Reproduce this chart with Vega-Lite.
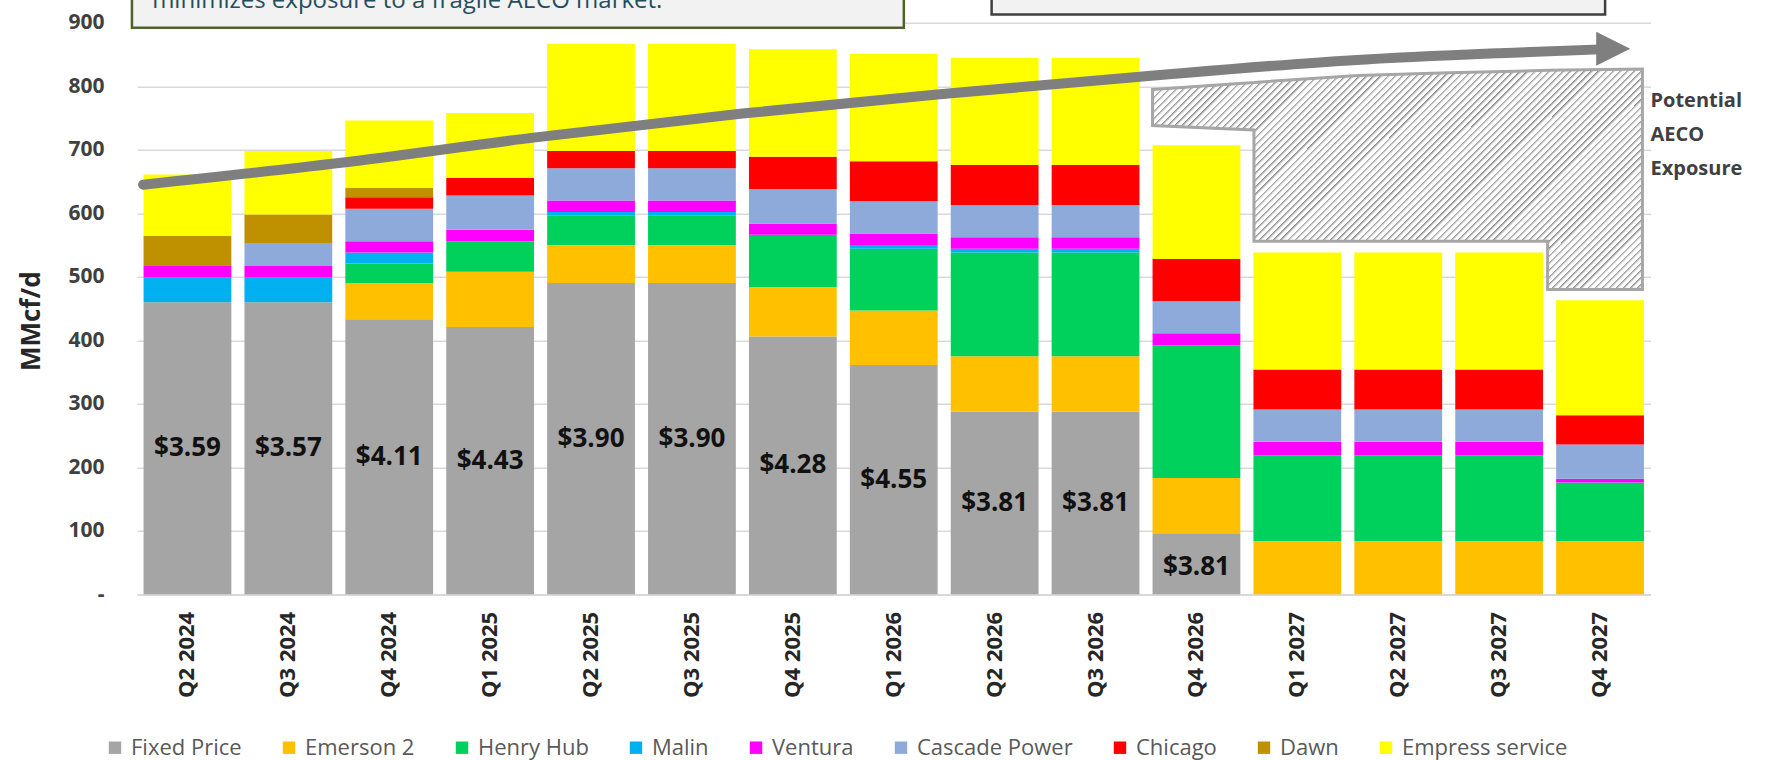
{
  "$schema": "https://vega.github.io/schema/vega-lite/v6.json",
  "width": 1513.5,
  "height": 571.6,
  "autosize": {"type": "none"},
  "padding": {"left": 137, "top": 22.7, "right": 115.5, "bottom": 165.7},
  "background": "white",
  "config": {
    "view": {"stroke": null},
    "font": "Open Sans",
    "legend": {
      "orient": "none", "legendX": -33, "legendY": 714, "direction": "horizontal", "columns": 9,
      "title": null, "symbolType": "square", "symbolSize": 154, "symbolStrokeWidth": 0,
      "labelFont": "Open Sans", "labelFontSize": 22, "labelColor": "#595959", "labelOffset": 5,
      "columnPadding": 36, "labelLimit": 400
    }
  },
  "datasets": {
    "flows": [
      {"q": "Q2 2024", "s": "Fixed Price", "v": 460}, {"q": "Q2 2024", "s": "Malin", "v": 39}, {"q": "Q2 2024", "s": "Ventura", "v": 18}, {"q": "Q2 2024", "s": "Dawn", "v": 47}, {"q": "Q2 2024", "s": "Empress service", "v": 97},
      {"q": "Q3 2024", "s": "Fixed Price", "v": 460}, {"q": "Q3 2024", "s": "Malin", "v": 39}, {"q": "Q3 2024", "s": "Ventura", "v": 18}, {"q": "Q3 2024", "s": "Cascade Power", "v": 36}, {"q": "Q3 2024", "s": "Dawn", "v": 45}, {"q": "Q3 2024", "s": "Empress service", "v": 100},
      {"q": "Q4 2024", "s": "Fixed Price", "v": 433}, {"q": "Q4 2024", "s": "Emerson 2", "v": 57}, {"q": "Q4 2024", "s": "Henry Hub", "v": 31}, {"q": "Q4 2024", "s": "Malin", "v": 17}, {"q": "Q4 2024", "s": "Ventura", "v": 18}, {"q": "Q4 2024", "s": "Cascade Power", "v": 51}, {"q": "Q4 2024", "s": "Chicago", "v": 18}, {"q": "Q4 2024", "s": "Dawn", "v": 15}, {"q": "Q4 2024", "s": "Empress service", "v": 106},
      {"q": "Q1 2025", "s": "Fixed Price", "v": 421}, {"q": "Q1 2025", "s": "Emerson 2", "v": 87}, {"q": "Q1 2025", "s": "Henry Hub", "v": 48}, {"q": "Q1 2025", "s": "Ventura", "v": 18}, {"q": "Q1 2025", "s": "Cascade Power", "v": 54}, {"q": "Q1 2025", "s": "Chicago", "v": 28}, {"q": "Q1 2025", "s": "Empress service", "v": 102},
      {"q": "Q2 2025", "s": "Fixed Price", "v": 490}, {"q": "Q2 2025", "s": "Emerson 2", "v": 60}, {"q": "Q2 2025", "s": "Henry Hub", "v": 47}, {"q": "Q2 2025", "s": "Malin", "v": 5}, {"q": "Q2 2025", "s": "Ventura", "v": 18}, {"q": "Q2 2025", "s": "Cascade Power", "v": 51}, {"q": "Q2 2025", "s": "Chicago", "v": 27}, {"q": "Q2 2025", "s": "Empress service", "v": 169},
      {"q": "Q3 2025", "s": "Fixed Price", "v": 490}, {"q": "Q3 2025", "s": "Emerson 2", "v": 60}, {"q": "Q3 2025", "s": "Henry Hub", "v": 47}, {"q": "Q3 2025", "s": "Malin", "v": 5}, {"q": "Q3 2025", "s": "Ventura", "v": 18}, {"q": "Q3 2025", "s": "Cascade Power", "v": 51}, {"q": "Q3 2025", "s": "Chicago", "v": 27}, {"q": "Q3 2025", "s": "Empress service", "v": 169},
      {"q": "Q4 2025", "s": "Fixed Price", "v": 406}, {"q": "Q4 2025", "s": "Emerson 2", "v": 78}, {"q": "Q4 2025", "s": "Henry Hub", "v": 80}, {"q": "Q4 2025", "s": "Malin", "v": 2}, {"q": "Q4 2025", "s": "Ventura", "v": 18}, {"q": "Q4 2025", "s": "Cascade Power", "v": 54}, {"q": "Q4 2025", "s": "Chicago", "v": 51}, {"q": "Q4 2025", "s": "Empress service", "v": 169},
      {"q": "Q1 2026", "s": "Fixed Price", "v": 361}, {"q": "Q1 2026", "s": "Emerson 2", "v": 86}, {"q": "Q1 2026", "s": "Henry Hub", "v": 97}, {"q": "Q1 2026", "s": "Malin", "v": 6}, {"q": "Q1 2026", "s": "Ventura", "v": 18}, {"q": "Q1 2026", "s": "Cascade Power", "v": 51}, {"q": "Q1 2026", "s": "Chicago", "v": 63}, {"q": "Q1 2026", "s": "Empress service", "v": 169},
      {"q": "Q2 2026", "s": "Fixed Price", "v": 288}, {"q": "Q2 2026", "s": "Emerson 2", "v": 87}, {"q": "Q2 2026", "s": "Henry Hub", "v": 163}, {"q": "Q2 2026", "s": "Malin", "v": 6}, {"q": "Q2 2026", "s": "Ventura", "v": 18}, {"q": "Q2 2026", "s": "Cascade Power", "v": 51}, {"q": "Q2 2026", "s": "Chicago", "v": 63}, {"q": "Q2 2026", "s": "Empress service", "v": 169},
      {"q": "Q3 2026", "s": "Fixed Price", "v": 288}, {"q": "Q3 2026", "s": "Emerson 2", "v": 87}, {"q": "Q3 2026", "s": "Henry Hub", "v": 163}, {"q": "Q3 2026", "s": "Malin", "v": 6}, {"q": "Q3 2026", "s": "Ventura", "v": 18}, {"q": "Q3 2026", "s": "Cascade Power", "v": 51}, {"q": "Q3 2026", "s": "Chicago", "v": 63}, {"q": "Q3 2026", "s": "Empress service", "v": 169},
      {"q": "Q4 2026", "s": "Fixed Price", "v": 96}, {"q": "Q4 2026", "s": "Emerson 2", "v": 87}, {"q": "Q4 2026", "s": "Henry Hub", "v": 209}, {"q": "Q4 2026", "s": "Ventura", "v": 19}, {"q": "Q4 2026", "s": "Cascade Power", "v": 51}, {"q": "Q4 2026", "s": "Chicago", "v": 66}, {"q": "Q4 2026", "s": "Empress service", "v": 179},
      {"q": "Q1 2027", "s": "Emerson 2", "v": 84}, {"q": "Q1 2027", "s": "Henry Hub", "v": 135}, {"q": "Q1 2027", "s": "Ventura", "v": 21}, {"q": "Q1 2027", "s": "Cascade Power", "v": 51}, {"q": "Q1 2027", "s": "Chicago", "v": 63}, {"q": "Q1 2027", "s": "Empress service", "v": 184},
      {"q": "Q2 2027", "s": "Emerson 2", "v": 84}, {"q": "Q2 2027", "s": "Henry Hub", "v": 135}, {"q": "Q2 2027", "s": "Ventura", "v": 21}, {"q": "Q2 2027", "s": "Cascade Power", "v": 51}, {"q": "Q2 2027", "s": "Chicago", "v": 63}, {"q": "Q2 2027", "s": "Empress service", "v": 184},
      {"q": "Q3 2027", "s": "Emerson 2", "v": 84}, {"q": "Q3 2027", "s": "Henry Hub", "v": 135}, {"q": "Q3 2027", "s": "Ventura", "v": 21}, {"q": "Q3 2027", "s": "Cascade Power", "v": 51}, {"q": "Q3 2027", "s": "Chicago", "v": 63}, {"q": "Q3 2027", "s": "Empress service", "v": 184},
      {"q": "Q4 2027", "s": "Emerson 2", "v": 84}, {"q": "Q4 2027", "s": "Henry Hub", "v": 92}, {"q": "Q4 2027", "s": "Ventura", "v": 6}, {"q": "Q4 2027", "s": "Cascade Power", "v": 54}, {"q": "Q4 2027", "s": "Chicago", "v": 46}, {"q": "Q4 2027", "s": "Empress service", "v": 181}
    ],
    "prices": [
      {"q": "Q2 2024", "fixed": 460, "p": "$3.59"}, {"q": "Q3 2024", "fixed": 460, "p": "$3.57"}, {"q": "Q4 2024", "fixed": 433, "p": "$4.11"},
      {"q": "Q1 2025", "fixed": 421, "p": "$4.43"}, {"q": "Q2 2025", "fixed": 490, "p": "$3.90"}, {"q": "Q3 2025", "fixed": 490, "p": "$3.90"},
      {"q": "Q4 2025", "fixed": 406, "p": "$4.28"}, {"q": "Q1 2026", "fixed": 361, "p": "$4.55"}, {"q": "Q2 2026", "fixed": 288, "p": "$3.81"},
      {"q": "Q3 2026", "fixed": 288, "p": "$3.81"}, {"q": "Q4 2026", "fixed": 86, "p": "$3.81"}
    ],
    "hatch": [
      {"x": 10.065, "top": 795, "bottom": 738}, {"x": 11.07, "top": 806, "bottom": 731}, {"x": 11.0701, "top": 806, "bottom": 556},
      {"x": 12.1, "top": 817, "bottom": 556}, {"x": 13.0, "top": 821, "bottom": 556}, {"x": 13.98, "top": 825, "bottom": 556},
      {"x": 13.9801, "top": 825, "bottom": 480}, {"x": 14.92, "top": 827, "bottom": 480}
    ],
    "arrow": [
      {"x": 0.06, "y": 645}, {"x": 2.0, "y": 679}, {"x": 3.93, "y": 719}, {"x": 6.0, "y": 757}, {"x": 7.93, "y": 787},
      {"x": 9.94, "y": 815}, {"x": 12.05, "y": 841}, {"x": 13.5, "y": 852}, {"x": 14.5, "y": 858}
    ],
    "head": [{"x": 14.63, "y": 859}],
    "boxes": [
      {"name": "left", "x1": -0.05, "x2": 7.6, "y1": 892, "y2": 945},
      {"name": "right", "x1": 8.47, "x2": 14.55, "y1": 913, "y2": 945}
    ],
    "notes": [
      {"x": 0.15, "y": 923, "t": "minimizes exposure to a fragile AECO market."}
    ],
    "side": [
      {"x": 15.0, "y": 767, "t": "Potential\nAECO\nExposure"}
    ]
  },
  "layer": [
    {
      "layer": [
        {
          "data": {"name": "flows"},
          "transform": [
            {"calculate": "indexof(['Fixed Price','Emerson 2','Henry Hub','Malin','Ventura','Cascade Power','Chicago','Dawn','Empress service'], datum.s)", "as": "ord"}
          ],
          "mark": {"type": "bar"},
          "encoding": {
            "x": {
              "field": "q", "type": "nominal",
              "scale": {"domain": ["Q2 2024","Q3 2024","Q4 2024","Q1 2025","Q2 2025","Q3 2025","Q4 2025","Q1 2026","Q2 2026","Q3 2026","Q4 2026","Q1 2027","Q2 2027","Q3 2027","Q4 2027"], "paddingInner": 0.13, "paddingOuter": 0.065},
              "axis": {
                "title": null, "labelAngle": 270, "labelFont": "Open Sans", "labelFontWeight": "bold", "labelFontSize": 22,
                "labelColor": "#262626", "labelPadding": 17, "ticks": false, "domain": true, "domainColor": "#d9d9d9", "domainWidth": 1.5, "grid": false
              }
            },
            "y": {
              "field": "v", "type": "quantitative", "stack": "zero",
              "scale": {"domain": [0, 900], "nice": false},
              "axis": {
                "title": "MMcf/d", "values": [0, 100, 200, 300, 400, 500, 600, 700, 800, 900],
                "labelExpr": "datum.value == 0 ? '-\u00a0\u00a0\u00a0' : datum.label",
                "labelFont": "Open Sans", "labelFontWeight": "bold", "labelFontSize": 21, "labelColor": "#404040", "labelPadding": 33,
                "ticks": false, "domain": false, "grid": true, "gridColor": "#d9d9d9", "gridWidth": 1.5,
                "titleFont": "Open Sans", "titleFontSize": 26, "titleFontWeight": "bold", "titleColor": "#262626",
                "titleX": -106, "titleY": 298, "titleAngle": 270, "titleAlign": "center", "titleBaseline": "middle"
              }
            },
            "color": {
              "field": "s", "type": "nominal",
              "scale": {
                "domain": ["Fixed Price","Emerson 2","Henry Hub","Malin","Ventura","Cascade Power","Chicago","Dawn","Empress service"],
                "range": ["#a5a5a5","#ffc000","#00d05c","#00b0f0","#ff00ff","#8eaadb","#ff0000","#bf9000","#ffff00"]
              },
              "legend": {}
            },
            "order": {"field": "ord", "type": "quantitative", "sort": "ascending"}
          }
        },
        {
          "data": {"name": "prices"},
          "transform": [{"calculate": "datum.fixed / 2", "as": "mid"}],
          "mark": {"type": "text", "font": "Open Sans", "fontWeight": "bold", "fontSize": 26, "color": "#111111", "baseline": "middle", "align": "center"},
          "encoding": {
            "x": {"field": "q", "type": "nominal", "scale": {"domain": ["Q2 2024","Q3 2024","Q4 2024","Q1 2025","Q2 2025","Q3 2025","Q4 2025","Q1 2026","Q2 2026","Q3 2026","Q4 2026","Q1 2027","Q2 2027","Q3 2027","Q4 2027"]}},
            "y": {"field": "mid", "type": "quantitative", "scale": {"domain": [0, 900], "nice": false}, "axis": null},
            "text": {"field": "p"}
          }
        }
      ],
      "resolve": {"axis": {"y": "independent"}}
    },
    {
      "layer": [
        {
          "data": {"name": "hatch"},
          "mark": {
            "type": "area", "interpolate": "linear", "stroke": "#a6a6a6", "strokeWidth": 3, "strokeJoin": "miter",
            "fill": {
              "gradient": "linear", "x1": 0, "y1": 0, "x2": 1.2058, "y2": 0.5421,
              "stops": [
                {"offset":0,"color":"#8c8c8c"},{"offset":0.005,"color":"#fff"},{"offset":0.01,"color":"#fff"},
                {"offset":0.01,"color":"#8c8c8c"},{"offset":0.015,"color":"#fff"},{"offset":0.02,"color":"#fff"},
                {"offset":0.02,"color":"#8c8c8c"},{"offset":0.025,"color":"#fff"},{"offset":0.03,"color":"#fff"},
                {"offset":0.03,"color":"#8c8c8c"},{"offset":0.035,"color":"#fff"},{"offset":0.04,"color":"#fff"},
                {"offset":0.04,"color":"#8c8c8c"},{"offset":0.045,"color":"#fff"},{"offset":0.05,"color":"#fff"},
                {"offset":0.05,"color":"#8c8c8c"},{"offset":0.055,"color":"#fff"},{"offset":0.06,"color":"#fff"},
                {"offset":0.06,"color":"#8c8c8c"},{"offset":0.065,"color":"#fff"},{"offset":0.07,"color":"#fff"},
                {"offset":0.07,"color":"#8c8c8c"},{"offset":0.075,"color":"#fff"},{"offset":0.08,"color":"#fff"},
                {"offset":0.08,"color":"#8c8c8c"},{"offset":0.085,"color":"#fff"},{"offset":0.09,"color":"#fff"},
                {"offset":0.09,"color":"#8c8c8c"},{"offset":0.095,"color":"#fff"},{"offset":0.1,"color":"#fff"},
                {"offset":0.1,"color":"#8c8c8c"},{"offset":0.105,"color":"#fff"},{"offset":0.11,"color":"#fff"},
                {"offset":0.11,"color":"#8c8c8c"},{"offset":0.115,"color":"#fff"},{"offset":0.12,"color":"#fff"},
                {"offset":0.12,"color":"#8c8c8c"},{"offset":0.125,"color":"#fff"},{"offset":0.13,"color":"#fff"},
                {"offset":0.13,"color":"#8c8c8c"},{"offset":0.135,"color":"#fff"},{"offset":0.14,"color":"#fff"},
                {"offset":0.14,"color":"#8c8c8c"},{"offset":0.145,"color":"#fff"},{"offset":0.15,"color":"#fff"},
                {"offset":0.15,"color":"#8c8c8c"},{"offset":0.155,"color":"#fff"},{"offset":0.16,"color":"#fff"},
                {"offset":0.16,"color":"#8c8c8c"},{"offset":0.165,"color":"#fff"},{"offset":0.17,"color":"#fff"},
                {"offset":0.17,"color":"#8c8c8c"},{"offset":0.175,"color":"#fff"},{"offset":0.18,"color":"#fff"},
                {"offset":0.18,"color":"#8c8c8c"},{"offset":0.185,"color":"#fff"},{"offset":0.19,"color":"#fff"},
                {"offset":0.19,"color":"#8c8c8c"},{"offset":0.195,"color":"#fff"},{"offset":0.2,"color":"#fff"},
                {"offset":0.2,"color":"#8c8c8c"},{"offset":0.205,"color":"#fff"},{"offset":0.21,"color":"#fff"},
                {"offset":0.21,"color":"#8c8c8c"},{"offset":0.215,"color":"#fff"},{"offset":0.22,"color":"#fff"},
                {"offset":0.22,"color":"#8c8c8c"},{"offset":0.225,"color":"#fff"},{"offset":0.23,"color":"#fff"},
                {"offset":0.23,"color":"#8c8c8c"},{"offset":0.235,"color":"#fff"},{"offset":0.24,"color":"#fff"},
                {"offset":0.24,"color":"#8c8c8c"},{"offset":0.245,"color":"#fff"},{"offset":0.25,"color":"#fff"},
                {"offset":0.25,"color":"#8c8c8c"},{"offset":0.255,"color":"#fff"},{"offset":0.26,"color":"#fff"},
                {"offset":0.26,"color":"#8c8c8c"},{"offset":0.265,"color":"#fff"},{"offset":0.27,"color":"#fff"},
                {"offset":0.27,"color":"#8c8c8c"},{"offset":0.275,"color":"#fff"},{"offset":0.28,"color":"#fff"},
                {"offset":0.28,"color":"#8c8c8c"},{"offset":0.285,"color":"#fff"},{"offset":0.29,"color":"#fff"},
                {"offset":0.29,"color":"#8c8c8c"},{"offset":0.295,"color":"#fff"},{"offset":0.3,"color":"#fff"},
                {"offset":0.3,"color":"#8c8c8c"},{"offset":0.305,"color":"#fff"},{"offset":0.31,"color":"#fff"},
                {"offset":0.31,"color":"#8c8c8c"},{"offset":0.315,"color":"#fff"},{"offset":0.32,"color":"#fff"},
                {"offset":0.32,"color":"#8c8c8c"},{"offset":0.325,"color":"#fff"},{"offset":0.33,"color":"#fff"},
                {"offset":0.33,"color":"#8c8c8c"},{"offset":0.335,"color":"#fff"},{"offset":0.34,"color":"#fff"},
                {"offset":0.34,"color":"#8c8c8c"},{"offset":0.345,"color":"#fff"},{"offset":0.35,"color":"#fff"},
                {"offset":0.35,"color":"#8c8c8c"},{"offset":0.355,"color":"#fff"},{"offset":0.36,"color":"#fff"},
                {"offset":0.36,"color":"#8c8c8c"},{"offset":0.365,"color":"#fff"},{"offset":0.37,"color":"#fff"},
                {"offset":0.37,"color":"#8c8c8c"},{"offset":0.375,"color":"#fff"},{"offset":0.38,"color":"#fff"},
                {"offset":0.38,"color":"#8c8c8c"},{"offset":0.385,"color":"#fff"},{"offset":0.39,"color":"#fff"},
                {"offset":0.39,"color":"#8c8c8c"},{"offset":0.395,"color":"#fff"},{"offset":0.4,"color":"#fff"},
                {"offset":0.4,"color":"#8c8c8c"},{"offset":0.405,"color":"#fff"},{"offset":0.41,"color":"#fff"},
                {"offset":0.41,"color":"#8c8c8c"},{"offset":0.415,"color":"#fff"},{"offset":0.42,"color":"#fff"},
                {"offset":0.42,"color":"#8c8c8c"},{"offset":0.425,"color":"#fff"},{"offset":0.43,"color":"#fff"},
                {"offset":0.43,"color":"#8c8c8c"},{"offset":0.435,"color":"#fff"},{"offset":0.44,"color":"#fff"},
                {"offset":0.44,"color":"#8c8c8c"},{"offset":0.445,"color":"#fff"},{"offset":0.45,"color":"#fff"},
                {"offset":0.45,"color":"#8c8c8c"},{"offset":0.455,"color":"#fff"},{"offset":0.46,"color":"#fff"},
                {"offset":0.46,"color":"#8c8c8c"},{"offset":0.465,"color":"#fff"},{"offset":0.47,"color":"#fff"},
                {"offset":0.47,"color":"#8c8c8c"},{"offset":0.475,"color":"#fff"},{"offset":0.48,"color":"#fff"},
                {"offset":0.48,"color":"#8c8c8c"},{"offset":0.485,"color":"#fff"},{"offset":0.49,"color":"#fff"},
                {"offset":0.49,"color":"#8c8c8c"},{"offset":0.495,"color":"#fff"},{"offset":0.5,"color":"#fff"},
                {"offset":0.5,"color":"#8c8c8c"},{"offset":0.505,"color":"#fff"},{"offset":0.51,"color":"#fff"},
                {"offset":0.51,"color":"#8c8c8c"},{"offset":0.515,"color":"#fff"},{"offset":0.52,"color":"#fff"},
                {"offset":0.52,"color":"#8c8c8c"},{"offset":0.525,"color":"#fff"},{"offset":0.53,"color":"#fff"},
                {"offset":0.53,"color":"#8c8c8c"},{"offset":0.535,"color":"#fff"},{"offset":0.54,"color":"#fff"},
                {"offset":0.54,"color":"#8c8c8c"},{"offset":0.545,"color":"#fff"},{"offset":0.55,"color":"#fff"},
                {"offset":0.55,"color":"#8c8c8c"},{"offset":0.555,"color":"#fff"},{"offset":0.56,"color":"#fff"},
                {"offset":0.56,"color":"#8c8c8c"},{"offset":0.565,"color":"#fff"},{"offset":0.57,"color":"#fff"},
                {"offset":0.57,"color":"#8c8c8c"},{"offset":0.575,"color":"#fff"},{"offset":0.58,"color":"#fff"},
                {"offset":0.58,"color":"#8c8c8c"},{"offset":0.585,"color":"#fff"},{"offset":0.59,"color":"#fff"},
                {"offset":0.59,"color":"#8c8c8c"},{"offset":0.595,"color":"#fff"},{"offset":0.6,"color":"#fff"},
                {"offset":0.6,"color":"#8c8c8c"},{"offset":0.605,"color":"#fff"},{"offset":0.61,"color":"#fff"},
                {"offset":0.61,"color":"#8c8c8c"},{"offset":0.615,"color":"#fff"},{"offset":0.62,"color":"#fff"},
                {"offset":0.62,"color":"#8c8c8c"},{"offset":0.625,"color":"#fff"},{"offset":0.63,"color":"#fff"},
                {"offset":0.63,"color":"#8c8c8c"},{"offset":0.635,"color":"#fff"},{"offset":0.64,"color":"#fff"},
                {"offset":0.64,"color":"#8c8c8c"},{"offset":0.645,"color":"#fff"},{"offset":0.65,"color":"#fff"},
                {"offset":0.65,"color":"#8c8c8c"},{"offset":0.655,"color":"#fff"},{"offset":0.66,"color":"#fff"},
                {"offset":0.66,"color":"#8c8c8c"},{"offset":0.665,"color":"#fff"},{"offset":0.67,"color":"#fff"},
                {"offset":0.67,"color":"#8c8c8c"},{"offset":0.675,"color":"#fff"},{"offset":0.68,"color":"#fff"},
                {"offset":0.68,"color":"#8c8c8c"},{"offset":0.685,"color":"#fff"},{"offset":0.69,"color":"#fff"},
                {"offset":0.69,"color":"#8c8c8c"},{"offset":0.695,"color":"#fff"},{"offset":0.7,"color":"#fff"},
                {"offset":0.7,"color":"#8c8c8c"},{"offset":0.705,"color":"#fff"},{"offset":0.71,"color":"#fff"},
                {"offset":0.71,"color":"#8c8c8c"},{"offset":0.715,"color":"#fff"},{"offset":0.72,"color":"#fff"},
                {"offset":0.72,"color":"#8c8c8c"},{"offset":0.725,"color":"#fff"},{"offset":0.73,"color":"#fff"},
                {"offset":0.73,"color":"#8c8c8c"},{"offset":0.735,"color":"#fff"},{"offset":0.74,"color":"#fff"},
                {"offset":0.74,"color":"#8c8c8c"},{"offset":0.745,"color":"#fff"},{"offset":0.75,"color":"#fff"},
                {"offset":0.75,"color":"#8c8c8c"},{"offset":0.755,"color":"#fff"},{"offset":0.76,"color":"#fff"},
                {"offset":0.76,"color":"#8c8c8c"},{"offset":0.765,"color":"#fff"},{"offset":0.77,"color":"#fff"},
                {"offset":0.77,"color":"#8c8c8c"},{"offset":0.775,"color":"#fff"},{"offset":0.78,"color":"#fff"},
                {"offset":0.78,"color":"#8c8c8c"},{"offset":0.785,"color":"#fff"},{"offset":0.79,"color":"#fff"},
                {"offset":0.79,"color":"#8c8c8c"},{"offset":0.795,"color":"#fff"},{"offset":0.8,"color":"#fff"},
                {"offset":0.8,"color":"#8c8c8c"},{"offset":0.805,"color":"#fff"},{"offset":0.81,"color":"#fff"},
                {"offset":0.81,"color":"#8c8c8c"},{"offset":0.815,"color":"#fff"},{"offset":0.82,"color":"#fff"},
                {"offset":0.82,"color":"#8c8c8c"},{"offset":0.825,"color":"#fff"},{"offset":0.83,"color":"#fff"},
                {"offset":0.83,"color":"#8c8c8c"},{"offset":0.835,"color":"#fff"},{"offset":0.84,"color":"#fff"},
                {"offset":0.84,"color":"#8c8c8c"},{"offset":0.845,"color":"#fff"},{"offset":0.85,"color":"#fff"},
                {"offset":0.85,"color":"#8c8c8c"},{"offset":0.855,"color":"#fff"},{"offset":0.86,"color":"#fff"},
                {"offset":0.86,"color":"#8c8c8c"},{"offset":0.865,"color":"#fff"},{"offset":0.87,"color":"#fff"},
                {"offset":0.87,"color":"#8c8c8c"},{"offset":0.875,"color":"#fff"},{"offset":0.88,"color":"#fff"},
                {"offset":0.88,"color":"#8c8c8c"},{"offset":0.885,"color":"#fff"},{"offset":0.89,"color":"#fff"},
                {"offset":0.89,"color":"#8c8c8c"},{"offset":0.895,"color":"#fff"},{"offset":0.9,"color":"#fff"},
                {"offset":0.9,"color":"#8c8c8c"},{"offset":0.905,"color":"#fff"},{"offset":0.91,"color":"#fff"},
                {"offset":0.91,"color":"#8c8c8c"},{"offset":0.915,"color":"#fff"},{"offset":0.92,"color":"#fff"},
                {"offset":0.92,"color":"#8c8c8c"},{"offset":0.925,"color":"#fff"},{"offset":0.93,"color":"#fff"},
                {"offset":0.93,"color":"#8c8c8c"},{"offset":0.935,"color":"#fff"},{"offset":0.94,"color":"#fff"},
                {"offset":0.94,"color":"#8c8c8c"},{"offset":0.945,"color":"#fff"},{"offset":0.95,"color":"#fff"},
                {"offset":0.95,"color":"#8c8c8c"},{"offset":0.955,"color":"#fff"},{"offset":0.96,"color":"#fff"},
                {"offset":0.96,"color":"#8c8c8c"},{"offset":0.965,"color":"#fff"},{"offset":0.97,"color":"#fff"},
                {"offset":0.97,"color":"#8c8c8c"},{"offset":0.975,"color":"#fff"},{"offset":0.98,"color":"#fff"},
                {"offset":0.98,"color":"#8c8c8c"},{"offset":0.985,"color":"#fff"},{"offset":0.99,"color":"#fff"},
                {"offset":0.99,"color":"#8c8c8c"},{"offset":0.995,"color":"#fff"},{"offset":1,"color":"#fff"}
              ]
            }
          },
          "encoding": {
            "x": {"field": "x", "type": "quantitative", "scale": {"domain": [0, 15], "nice": false, "zero": false}, "axis": null},
            "y": {"field": "top", "type": "quantitative", "scale": {"domain": [0, 900], "nice": false}, "axis": null},
            "y2": {"field": "bottom"}
          }
        },
        {
          "data": {"name": "arrow"},
          "mark": {"type": "line", "color": "#7f7f7f", "strokeWidth": 10, "strokeCap": "round", "interpolate": "monotone"},
          "encoding": {
            "x": {"field": "x", "type": "quantitative", "scale": {"domain": [0, 15], "nice": false, "zero": false}, "axis": null},
            "y": {"field": "y", "type": "quantitative", "scale": {"domain": [0, 900], "nice": false}, "axis": null}
          }
        },
        {
          "data": {"name": "head"},
          "mark": {"type": "point", "shape": "M-1,-1L1,0L-1,1Z", "size": 1156, "filled": true, "color": "#7f7f7f", "opacity": 1, "strokeWidth": 0},
          "encoding": {
            "x": {"field": "x", "type": "quantitative", "scale": {"domain": [0, 15], "nice": false, "zero": false}, "axis": null},
            "y": {"field": "y", "type": "quantitative", "scale": {"domain": [0, 900], "nice": false}, "axis": null}
          }
        },
        {
          "data": {"name": "boxes"},
          "mark": {"type": "rect", "fill": "#f2f2f2", "strokeWidth": 2.5},
          "encoding": {
            "x": {"field": "x1", "type": "quantitative", "scale": {"domain": [0, 15], "nice": false, "zero": false}, "axis": null},
            "x2": {"field": "x2"},
            "y": {"field": "y1", "type": "quantitative", "scale": {"domain": [0, 900], "nice": false}, "axis": null},
            "y2": {"field": "y2"},
            "stroke": {"field": "name", "type": "nominal", "scale": {"domain": ["left", "right"], "range": ["#4f6228", "#3f3f3f"]}, "legend": null}
          }
        },
        {
          "data": {"name": "notes"},
          "mark": {"type": "text", "font": "Open Sans", "fontSize": 24, "color": "#1f4e5f", "align": "left", "baseline": "alphabetic"},
          "encoding": {
            "x": {"field": "x", "type": "quantitative", "scale": {"domain": [0, 15], "nice": false, "zero": false}, "axis": null},
            "y": {"field": "y", "type": "quantitative", "scale": {"domain": [0, 900], "nice": false}, "axis": null},
            "text": {"field": "t"}
          }
        },
        {
          "data": {"name": "side"},
          "mark": {"type": "text", "font": "Open Sans", "fontSize": 20, "fontWeight": "bold", "color": "#404040", "align": "left", "baseline": "alphabetic", "lineBreak": "\n", "lineHeight": 34},
          "encoding": {
            "x": {"field": "x", "type": "quantitative", "scale": {"domain": [0, 15], "nice": false, "zero": false}, "axis": null},
            "y": {"field": "y", "type": "quantitative", "scale": {"domain": [0, 900], "nice": false}, "axis": null},
            "text": {"field": "t"}
          }
        }
      ],
      "resolve": {"axis": {"y": "independent"}}
    }
  ],
  "resolve": {"scale": {"x": "independent"}, "axis": {"y": "independent"}}
}
